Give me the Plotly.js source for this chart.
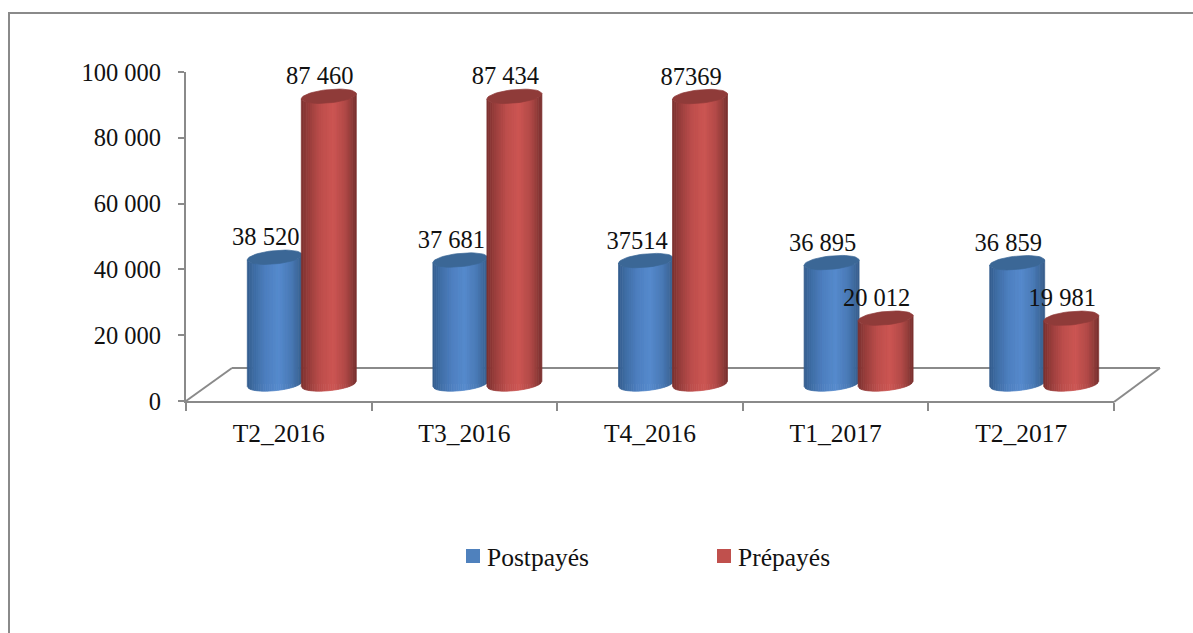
<!DOCTYPE html>
<html>
<head>
<meta charset="utf-8">
<script src="https://cdn.plot.ly/plotly-3.0.1.min.js"></script>
<style>html,body{margin:0;padding:0;background:#fff}#chart{width:1193px;height:633px}</style>
</head>
<body>
<div id="chart"></div>
<script>
// ---- data ----
var categories = ['T2_2016', 'T3_2016', 'T4_2016', 'T1_2017', 'T2_2017'];
var postpayes = [38520, 37681, 37514, 36895, 36859];
var prepayes = [87460, 87434, 87369, 20012, 19981];
var postpayesLabels = ['38 520', '37 681', '37514', '36 895', '36 859'];
var prepayesLabels = ['87 460', '87 434', '87369', '20 012', '19 981'];
var yTickValues = [0, 20000, 40000, 60000, 80000, 100000];
var yTickLabels = ['0', '20 000', '40 000', '60 000', '80 000', '100 000'];
var seriesNames = ['Postpayés', 'Prépayés'];

// ---- look ----
var W = 1193, H = 633;
var L = 186, R = 1114, T = 72, B = 401;
var pxX = (R - L) / categories.length;      // px per category
var pxY = (B - T) / 100000;                 // px per value unit
var FONT = 'Liberation Serif, serif';
var GREY = '#8a8a8a';
var BLUE = '#4f81bd', RED = '#c0504d';
var floorBase = 17 / pxY;                   // cylinders stand back on the 3D floor

function paperX(p) { return (p - L) / (R - L); }
function paperY(p) { return (B - p) / (B - T); }

function lerpColor(stops, t) {
  for (var i = 1; i < stops.length; i++) {
    if (t <= stops[i][0]) {
      var a = stops[i - 1], b = stops[i];
      var f = (t - a[0]) / (b[0] - a[0]);
      var c = [0, 1, 2].map(function (k) { return Math.round(a[1][k] + (b[1][k] - a[1][k]) * f); });
      return 'rgb(' + c.join(',') + ')';
    }
  }
  var last = stops[stops.length - 1][1];
  return 'rgb(' + last.join(',') + ')';
}

var BLUE_STOPS = [[0, [52, 92, 140]], [0.12, [62, 108, 163]], [0.35, [78, 128, 192]], [0.58, [86, 138, 205]], [0.8, [74, 122, 182]], [0.93, [62, 104, 155]], [1, [54, 92, 138]]];
var RED_STOPS = [[0, [122, 48, 46]], [0.12, [148, 60, 58]], [0.35, [188, 78, 76]], [0.58, [204, 86, 83]], [0.8, [178, 74, 72]], [0.93, [142, 58, 56]], [1, [118, 46, 44]]];

var HALF_W = 27.5, TILT = 2.6, MINOR = 6.7, STRIPS = 30;

// lower rim of the tilted ellipse, in px below the cylinder axis level
function rim(t) { return -TILT * t + MINOR * Math.sqrt(Math.max(0, 1 - t * t)); }

function cylinderTraces(values, centerPx, stops, capColor) {
  var out = [];
  for (var s = 0; s < STRIPS; s++) {
    var t0 = -1 + 2 * s / STRIPS, t1 = -1 + 2 * (s + 1) / STRIPS;
    var xs = [], ys = [];
    values.forEach(function (v, i) {
      var xa = i + (centerPx + HALF_W * t0) / pxX, xb = i + (centerPx + HALF_W * t1) / pxX;
      var yBottomA = floorBase - rim(t0) / pxY, yBottomB = floorBase - rim(t1) / pxY;
      var yTopA = floorBase + v - rim(t0) / pxY, yTopB = floorBase + v - rim(t1) / pxY;
      xs.push(xa, xb, xb, xa, xa, null);
      ys.push(yBottomA, yBottomB, yTopB, yTopA, yBottomA, null);
    });
    var col = lerpColor(stops, (s + 0.5) / STRIPS);
    out.push({
      type: 'scatter', mode: 'lines', x: xs, y: ys, xaxis: 'x2', yaxis: 'y',
      fill: 'toself', fillcolor: col, line: { color: col, width: 0.7 },
      hoverinfo: 'skip', showlegend: false
    });
  }
  // caps
  var cx = [], cy = [];
  values.forEach(function (v, i) {
    for (var k = 0; k <= 48; k++) {
      var a = 2 * Math.PI * k / 48, t = Math.cos(a);
      cx.push(i + (centerPx + HALF_W * t) / pxX);
      cy.push(floorBase + v - (-TILT * t + MINOR * Math.sin(a)) / pxY);
    }
    cx.push(null); cy.push(null);
  });
  out.push({
    type: 'scatter', mode: 'lines', x: cx, y: cy, xaxis: 'x2', yaxis: 'y',
    fill: 'toself', fillcolor: capColor, line: { color: capColor, width: 0.7 },
    hoverinfo: 'skip', showlegend: false
  });
  return out;
}

var BLUE_CENTER = -4, RED_CENTER = 50;      // px from category centre
var CORE_W = 44;

function coreBar(name, values, centerPx, color) {
  return {
    type: 'bar', name: name, x: categories, y: values, base: floorBase,
    width: CORE_W / pxX, offset: (centerPx - CORE_W / 2) / pxX,
    marker: { color: color },
    showlegend: false,
    hovertemplate: name + ' %{x}: %{y}<extra></extra>'
  };
}

function labelTrace(values, labels, offsetPx) {
  return {
    type: 'scatter', mode: 'text', xaxis: 'x2', yaxis: 'y',
    x: values.map(function (v, i) { return i + offsetPx / pxX; }),
    y: values.map(function (v) { return floorBase + v + 18 / pxY; }),
    text: labels, textposition: 'middle center',
    textfont: { family: FONT, size: 24.5, color: '#111' },
    hoverinfo: 'skip', showlegend: false, cliponaxis: false
  };
}

var traces = [
  coreBar(seriesNames[0], postpayes, BLUE_CENTER, BLUE),
  coreBar(seriesNames[1], prepayes, RED_CENTER, RED)
]
  .concat(cylinderTraces(postpayes, BLUE_CENTER, BLUE_STOPS, '#3b6796'))
  .concat(cylinderTraces(prepayes, RED_CENTER, RED_STOPS, '#8f3b39'))
  .concat([labelTrace(postpayes, postpayesLabels, -13), labelTrace(prepayes, prepayesLabels, 41)]);

function seg(x0, y0, x1, y1, w) {
  return {
    type: 'line', xref: 'paper', yref: 'paper', layer: 'below',
    x0: paperX(x0), y0: paperY(y0), x1: paperX(x1), y1: paperY(y1),
    line: { color: GREY, width: w || 2 }
  };
}
function swatch(x, color) {
  return {
    type: 'rect', xref: 'paper', yref: 'paper', layer: 'above',
    x0: paperX(x), x1: paperX(x + 14), y0: paperY(549), y1: paperY(563),
    fillcolor: color, line: { width: 0 }
  };
}
function legendText(x, text) {
  return {
    xref: 'paper', yref: 'paper', x: paperX(x), y: paperY(557), xanchor: 'left', yanchor: 'middle',
    text: text, showarrow: false, xshift: 0, borderpad: 0,
    font: { family: FONT, size: 25.5, color: '#111' }
  };
}

var layout = {
  width: W, height: H,
  margin: { l: L, r: W - R, t: T, b: H - B, pad: 0 },
  paper_bgcolor: '#fff', plot_bgcolor: 'rgba(0,0,0,0)',
  barmode: 'overlay',
  font: { family: FONT, size: 24.5, color: '#111' },
  showlegend: false,
  xaxis: {
    type: 'category', categoryorder: 'array', categoryarray: categories,
    range: [-0.5, 4.5], tickson: 'boundaries', ticks: 'outside', ticklen: 8, tickwidth: 2,
    tickcolor: GREY, showline: true, linecolor: GREY, linewidth: 2, showgrid: false, zeroline: false,
    ticklabelstandoff: 8,
    tickfont: { family: FONT, size: 25.5, color: '#111' }, fixedrange: true
  },
  xaxis2: {
    type: 'linear', overlaying: 'x', anchor: 'y', side: 'bottom', range: [-0.5, 4.5],
    visible: false, showgrid: false, zeroline: false, fixedrange: true
  },
  yaxis: {
    range: [0, 100000], tickmode: 'array', tickvals: yTickValues, ticktext: yTickLabels,
    ticks: 'outside', ticklen: 6, tickwidth: 2, tickcolor: GREY, showline: true, linecolor: GREY, linewidth: 2,
    showgrid: false, zeroline: false, ticklabelstandoff: 12,
    tickfont: { family: FONT, size: 24.5, color: '#111' }, fixedrange: true
  },
  shapes: [
    seg(186, 401, 232, 368), seg(232, 368, 1160, 368), seg(1160, 368, 1114, 402),
    seg(9, 633, 9, 13), seg(8, 13, 1193, 13),
    swatch(466, BLUE), swatch(717, RED)
  ],
  annotations: [legendText(486, seriesNames[0]), legendText(737, seriesNames[1])]
};

Plotly.newPlot('chart', traces, layout, { displayModeBar: false, responsive: false });
</script>
</body>
</html>
